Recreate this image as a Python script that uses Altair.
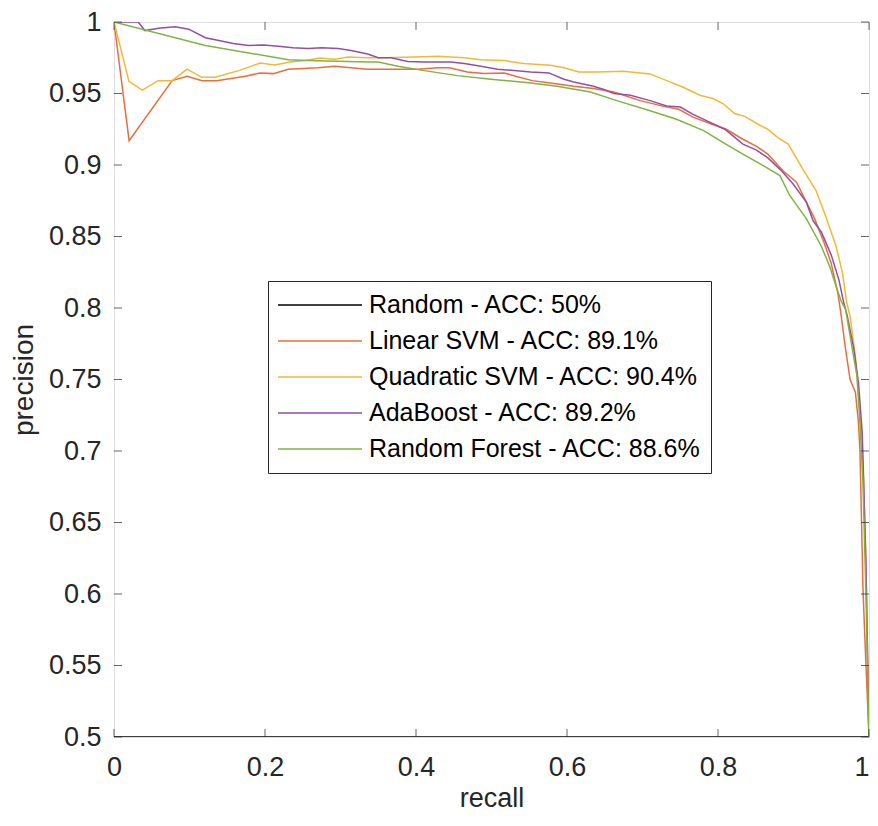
import altair as alt
import pandas as pd

series_names = [
    "Random - ACC: 50%",
    "Linear SVM - ACC: 89.1%",
    "Quadratic SVM - ACC: 90.4%",
    "AdaBoost - ACC: 89.2%",
    "Random Forest - ACC: 88.6%",
]
series_colors = ["#000000", "#E4703F", "#F2B838", "#934FA3", "#80B343"]

random_recall = [0.0, 1.0]
random_precision = [0.5, 0.5]

linear_recall = [0.0, 0.02, 0.077, 0.097, 0.1165, 0.136, 0.174, 0.1935, 0.211, 0.231, 0.27, 0.292,
                 0.314, 0.336, 0.367, 0.402, 0.429, 0.444, 0.468, 0.490, 0.517, 0.532, 0.554, 0.578,
                 0.609, 0.635, 0.662, 0.697, 0.728, 0.748, 0.767, 0.792, 0.811, 0.833, 0.851, 0.866,
                 0.886, 0.904, 0.917, 0.928, 0.941, 0.950, 0.9587, 0.962, 0.969, 0.975, 0.982, 0.986,
                 0.988, 0.989, 0.992, 0.995, 1.0]
linear_precision = [1.0, 0.917, 0.959, 0.962, 0.959, 0.959, 0.962, 0.9644, 0.9639, 0.967, 0.968, 0.969,
                    0.968, 0.967, 0.967, 0.967, 0.968, 0.968, 0.965, 0.964, 0.9644, 0.962, 0.959, 0.9574,
                    0.955, 0.9535, 0.951, 0.945, 0.941, 0.939, 0.9335, 0.9285, 0.925, 0.918, 0.913, 0.9076,
                    0.896, 0.888, 0.874, 0.8625, 0.845, 0.831, 0.8104, 0.799, 0.771, 0.750, 0.741, 0.720,
                    0.700, 0.678, 0.604, 0.563, 0.5]

quad_recall = [0.0, 0.0198, 0.0374, 0.0585, 0.077, 0.0967, 0.1165, 0.134, 0.165, 0.1935, 0.213, 0.233,
               0.253, 0.273, 0.292, 0.31, 0.336, 0.358, 0.398, 0.429, 0.464, 0.486, 0.517, 0.543,
               0.578, 0.596, 0.616, 0.64, 0.675, 0.710, 0.732, 0.754, 0.776, 0.794, 0.807, 0.822,
               0.8355, 0.853, 0.866, 0.8796, 0.893, 0.9125, 0.930, 0.943, 0.9565, 0.965, 0.9706, 0.975,
               0.982, 0.986, 0.99, 0.993, 0.996, 1.0]
quad_precision = [1.0, 0.9585, 0.9523, 0.959, 0.959, 0.967, 0.9613, 0.9613, 0.966, 0.9713, 0.970, 0.972,
                  0.9731, 0.9748, 0.974, 0.9755, 0.975, 0.975, 0.9755, 0.976, 0.975, 0.9736, 0.973, 0.971,
                  0.9697, 0.968, 0.965, 0.965, 0.9655, 0.9637, 0.959, 0.9544, 0.9488, 0.9463, 0.9428, 0.936,
                  0.934, 0.9285, 0.925, 0.919, 0.9146, 0.897, 0.882, 0.8636, 0.843, 0.824, 0.8035, 0.794,
                  0.766, 0.741, 0.713, 0.678, 0.62, 0.5]

ada_recall = [0.0, 0.032, 0.041, 0.059, 0.081, 0.099, 0.121, 0.139, 0.158, 0.178, 0.198, 0.218,
              0.237, 0.257, 0.275, 0.297, 0.314, 0.336, 0.35, 0.367, 0.389, 0.411, 0.446, 0.464,
              0.486, 0.508, 0.53, 0.552, 0.576, 0.596, 0.609, 0.635, 0.649, 0.662, 0.684, 0.710,
              0.732, 0.750, 0.767, 0.789, 0.809, 0.833, 0.851, 0.866, 0.884, 0.899, 0.917, 0.926,
              0.937, 0.950, 0.960, 0.966, 0.971, 0.980, 0.986, 0.991, 0.993, 0.996, 1.0]
ada_precision = [1.0, 1.0, 0.994, 0.9956, 0.9967, 0.995, 0.989, 0.987, 0.985, 0.9836, 0.984, 0.983,
                 0.982, 0.9815, 0.982, 0.9815, 0.980, 0.9776, 0.975, 0.975, 0.9724, 0.972, 0.972, 0.971,
                 0.969, 0.967, 0.966, 0.965, 0.9644, 0.960, 0.958, 0.955, 0.9528, 0.950, 0.9488, 0.945,
                 0.9412, 0.9405, 0.9354, 0.930, 0.925, 0.9146, 0.9104, 0.905, 0.896, 0.887, 0.874, 0.861,
                 0.853, 0.837, 0.820, 0.805, 0.795, 0.771, 0.748, 0.713, 0.678, 0.62, 0.5]

rf_recall = [0.0, 0.121, 0.231, 0.257, 0.336, 0.35, 0.376, 0.411, 0.455, 0.499, 0.552, 0.587,
             0.631, 0.666, 0.710, 0.745, 0.781, 0.807, 0.833, 0.860, 0.882, 0.895, 0.917, 0.937,
             0.948, 0.9565, 0.963, 0.969, 0.978, 0.984, 0.988, 0.992, 0.996, 1.0]
rf_precision = [1.0, 0.9836, 0.9736, 0.973, 0.972, 0.972, 0.969, 0.966, 0.9625, 0.960, 0.9574, 0.955,
                0.951, 0.945, 0.938, 0.932, 0.924, 0.9157, 0.9076, 0.8995, 0.8926, 0.8787, 0.8625, 0.843,
                0.829, 0.815, 0.805, 0.799, 0.771, 0.7525, 0.720, 0.678, 0.60, 0.5]

x_ticks = [0, 0.2, 0.4, 0.6, 0.8, 1]
y_ticks = [0.5, 0.55, 0.6, 0.65, 0.7, 0.75, 0.8, 0.85, 0.9, 0.95, 1]

series_data = [
    (random_recall, random_precision),
    (linear_recall, linear_precision),
    (quad_recall, quad_precision),
    (ada_recall, ada_precision),
    (rf_recall, rf_precision),
]

rows = []
for name, (rx, ry) in zip(series_names, series_data):
    for i, (a, b) in enumerate(zip(rx, ry)):
        rows.append({"series": name, "recall": a, "precision": b, "idx": i})
df = pd.DataFrame(rows)

FONT = "Liberation Sans"
AX = "#262626"

xscale = alt.Scale(domain=[0, 1], nice=False, zero=False)
yscale = alt.Scale(domain=[0.5, 1], nice=False, zero=False)

lines = alt.Chart(df).mark_line(strokeWidth=1.5, clip=True).encode(
    x=alt.X("recall:Q", scale=xscale, title="recall",
            axis=alt.Axis(values=x_ticks, format="~g", ticks=False, domain=False, grid=False,
                          labelFontSize=27, labelFont=FONT, labelColor=AX, labelPadding=17,
                          labelFlush=False,
                          labelAlign={"expr": "datum.value == 1 ? 'right' : 'center'"},
                          titleFont=FONT, titleFontSize=27,
                          titleFontWeight="normal", titleColor=AX, titlePadding=5)),
    y=alt.Y("precision:Q", scale=yscale, title="precision",
            axis=alt.Axis(values=y_ticks, format="~g", ticks=False, domain=False, grid=False,
                          labelFontSize=27, labelFont=FONT, labelColor=AX, labelPadding=13,
                          labelFlush=False, titleFont=FONT, titleFontSize=28,
                          titleFontWeight="normal", titleColor=AX, titlePadding=10)),
    color=alt.Color("series:N", title=None,
                    scale=alt.Scale(domain=series_names, range=series_colors),
                    sort=series_names,
                    legend=alt.Legend(orient="none", legendX=154, legendY=259, direction="vertical",
                                      symbolType="stroke", symbolSize=7056, symbolStrokeWidth=1.5,
                                      labelFontSize=25, labelFont=FONT, labelColor="#000000",
                                      labelLimit=600, strokeColor=AX, fillColor="#ffffff",
                                      padding=9, rowPadding=6, clipHeight=30, labelOffset=6)),
    order="idx:Q",
)

xt = pd.DataFrame({"recall": x_ticks})
yt = pd.DataFrame({"precision": y_ticks})

tick_bottom = alt.Chart(xt).mark_tick(orient="vertical", size=8, thickness=1, color=AX, yOffset=-4).encode(
    x=alt.X("recall:Q", scale=xscale), y=alt.datum(0.5))
tick_top = alt.Chart(xt).mark_tick(orient="vertical", size=8, thickness=1, color=AX, yOffset=4).encode(
    x=alt.X("recall:Q", scale=xscale), y=alt.datum(1.0))
tick_left = alt.Chart(yt).mark_tick(orient="horizontal", size=8, thickness=1, color=AX, xOffset=4).encode(
    x=alt.datum(0.0), y=alt.Y("precision:Q", scale=yscale))
tick_right = alt.Chart(yt).mark_tick(orient="horizontal", size=8, thickness=1, color=AX, xOffset=-4).encode(
    x=alt.datum(1.0), y=alt.Y("precision:Q", scale=yscale))

chart = alt.layer(lines, tick_bottom, tick_top, tick_left, tick_right).properties(
    width=755, height=715,
    autosize=alt.AutoSizeParams(type="none"),
    padding={"left": 106, "top": 14, "right": 1, "bottom": 77},
).configure_view(stroke=AX, strokeWidth=1).configure(background="#ffffff")

chart.save("out.html", embed_options={"renderer": "svg", "actions": False})
